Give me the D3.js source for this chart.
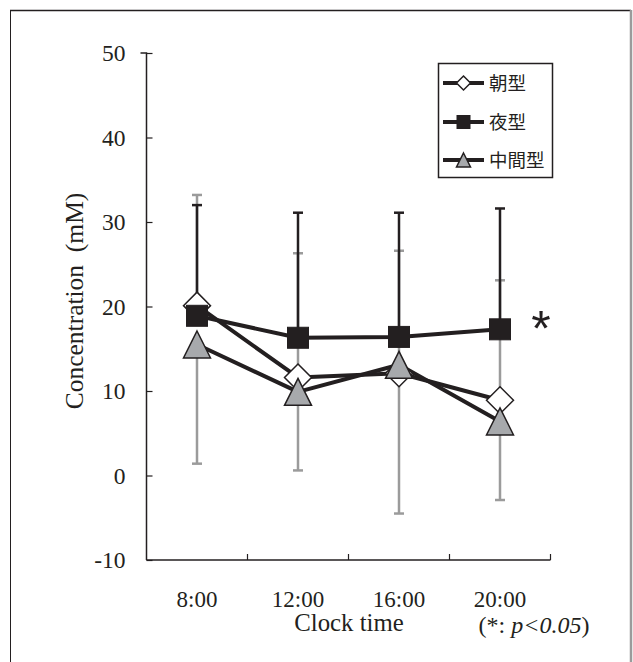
<!DOCTYPE html>
<html><head><meta charset="utf-8">
<script src="https://cdn.jsdelivr.net/npm/d3@7/dist/d3.min.js"></script>
<style>body{margin:0;background:#fff;}</style>
</head><body>
<svg id="c" width="633" height="662"></svg>
<script>
const categories = ["8:00", "12:00", "16:00", "20:00"];
const seriesNames = ["朝型", "夜型", "中間型"];
const asaValues = [20.1, 11.6, 12.1, 8.9];
const yoruValues = [18.9, 16.3, 16.4, 17.3];
const chukanValues = [15.5, 9.9, 13.1, 6.4];
const asaUpper = [33.2, 26.3, 26.6, 23.1];
const yoruUpper = [32.0, 31.1, 31.1, 31.6];
const chukanLower = [1.4, 0.6, -4.5, -2.9];
const yTicks = [-10, 0, 10, 20, 30, 40, 50];

const dark = "#231f20", gray = "#9b9b9b", triFill = "#a7a9ac";
const serif = "'Liberation Serif','Times New Roman',serif";
const cjk = "'Noto Sans CJK JP','Noto Sans CJK SC',sans-serif";

const svg = d3.select("#c");
// frame
svg.append("line").attr("x1",10.5).attr("x2",10.5).attr("y1",10).attr("y2",662).attr("stroke",dark).attr("stroke-width",1);
svg.append("line").attr("x1",10).attr("x2",631).attr("y1",10.5).attr("y2",10.5).attr("stroke",dark).attr("stroke-width",1.5);
svg.append("line").attr("x1",631).attr("x2",631).attr("y1",10).attr("y2",662).attr("stroke",gray).attr("stroke-width",2.5);

const x = d3.scaleBand().domain(categories).range([146.5, 550.5]).padding(0);
const y = d3.scaleLinear().domain([-10, 50]).range([560, 53]);
const cx = c => x(c) + x.bandwidth()/2;

// y axis
const ya = svg.append("g").attr("transform","translate(146.5,0)")
  .call(d3.axisLeft(y).tickValues(yTicks).tickSize(-6).tickPadding(21).tickFormat(d => String(d)));
ya.select(".domain").attr("stroke",dark).attr("stroke-width",1.5).attr("d", `M-6,${y(50)}H0V${y(-10)}`);
ya.selectAll(".tick line").attr("stroke",dark).attr("stroke-width",1.2);
ya.selectAll(".tick text").attr("font-family",serif).attr("font-size",23.5).attr("fill",dark);

// x axis
svg.append("line").attr("x1",146.5).attr("x2",550.5).attr("y1",y(-10)).attr("y2",y(-10)).attr("stroke",dark).attr("stroke-width",1.5);
const bounds = categories.map(c => x(c)).concat([x.range()[1]]).slice(1);
svg.selectAll(".xt").data(bounds).enter().append("line")
  .attr("x1",d=>d).attr("x2",d=>d).attr("y1",y(-10)).attr("y2",y(-10)-6).attr("stroke",dark).attr("stroke-width",1.2);
svg.selectAll(".xl").data(categories).enter().append("text")
  .attr("x",d=>cx(d)).attr("y",607).attr("text-anchor","middle")
  .attr("font-family",serif).attr("font-size",23).attr("fill",dark).text(d=>d);
svg.append("text").attr("x",349).attr("y",631).attr("text-anchor","middle")
  .attr("font-family",serif).attr("font-size",24.8).attr("fill",dark).text("Clock time");
const fn = svg.append("text").attr("x",534).attr("y",633).attr("text-anchor","middle")
  .attr("font-family",serif).attr("font-size",24).attr("fill",dark);
fn.append("tspan").text("(*: ");
fn.append("tspan").attr("font-style","italic").text("p<0.05");
fn.append("tspan").text(")");

// y title
svg.append("text").attr("transform","translate(83,301) rotate(-90)").attr("text-anchor","middle")
  .attr("font-family",serif).attr("font-size",25.5).attr("fill",dark).attr("xml:space","preserve")
  .text("Concentration  (mM)");

// error bars
function errBar(vals, ends, color){
  const g = svg.append("g");
  categories.forEach((c,i)=>{
    const X = cx(c);
    g.append("line").attr("x1",X).attr("x2",X).attr("y1",y(vals[i])).attr("y2",y(ends[i])).attr("stroke",color).attr("stroke-width",2.5);
    g.append("line").attr("x1",X-5).attr("x2",X+5).attr("y1",y(ends[i])).attr("y2",y(ends[i])).attr("stroke",color).attr("stroke-width",2.5);
  });
}
errBar(asaValues, asaUpper, gray);
errBar(chukanValues, chukanLower, gray);
errBar(yoruValues, yoruUpper, dark);

// markers
function marker(g, type, X, Y, s){
  if(type==="diamond"){
    g.append("path").attr("d",`M${X},${Y-s}L${X+s},${Y}L${X},${Y+s}L${X-s},${Y}Z`).attr("fill","#fff").attr("stroke",dark).attr("stroke-width",1.5);
  } else if(type==="square"){
    g.append("rect").attr("x",X-s).attr("y",Y-s).attr("width",2*s).attr("height",2*s).attr("fill",dark).attr("stroke",dark).attr("stroke-width",1);
  } else {
    g.append("path").attr("d",`M${X},${Y-s}L${X+s},${Y+s}L${X-s},${Y+s}Z`).attr("fill",triFill).attr("stroke",dark).attr("stroke-width",1.5);
  }
}
const series = [
  {name:seriesNames[0], vals:asaValues, type:"diamond", s:13.5},
  {name:seriesNames[1], vals:yoruValues, type:"square", s:10.5},
  {name:seriesNames[2], vals:chukanValues, type:"triangle", s:13.5}
];
const line = d3.line().x((d,i)=>cx(categories[i])).y(d=>y(d));
series.forEach(s=>{
  svg.append("path").datum(s.vals).attr("d",line).attr("fill","none").attr("stroke",dark).attr("stroke-width",4).attr("stroke-linejoin","round");
});
series.forEach(s=>{
  const g = svg.append("g");
  s.vals.forEach((v,i)=>marker(g, s.type, cx(categories[i]), y(v), s.s));
});

// asterisk
svg.append("text").attr("x",541).attr("y",346).attr("text-anchor","middle")
  .attr("font-family","'Liberation Sans',Arial,sans-serif").attr("font-size",50).attr("fill",dark).text("*");

// legend
const lg = svg.append("g");
lg.append("rect").attr("x",438.5).attr("y",63.5).attr("width",114).attr("height",114).attr("fill","#fff").attr("stroke",dark).attr("stroke-width",1.5);
const ly = [83, 122, 160];
series.forEach((s,i)=>{
  lg.append("line").attr("x1",443).attr("x2",484).attr("y1",ly[i]).attr("y2",ly[i]).attr("stroke",dark).attr("stroke-width",4);
  marker(lg, s.type, 463.5, ly[i], s.type==="square"?6.5:7);
  lg.append("text").attr("x",489).attr("y",ly[i]+6.5).attr("font-family",cjk).attr("font-size",18.5).attr("fill",dark).text(s.name);
});
</script>
</body></html>
